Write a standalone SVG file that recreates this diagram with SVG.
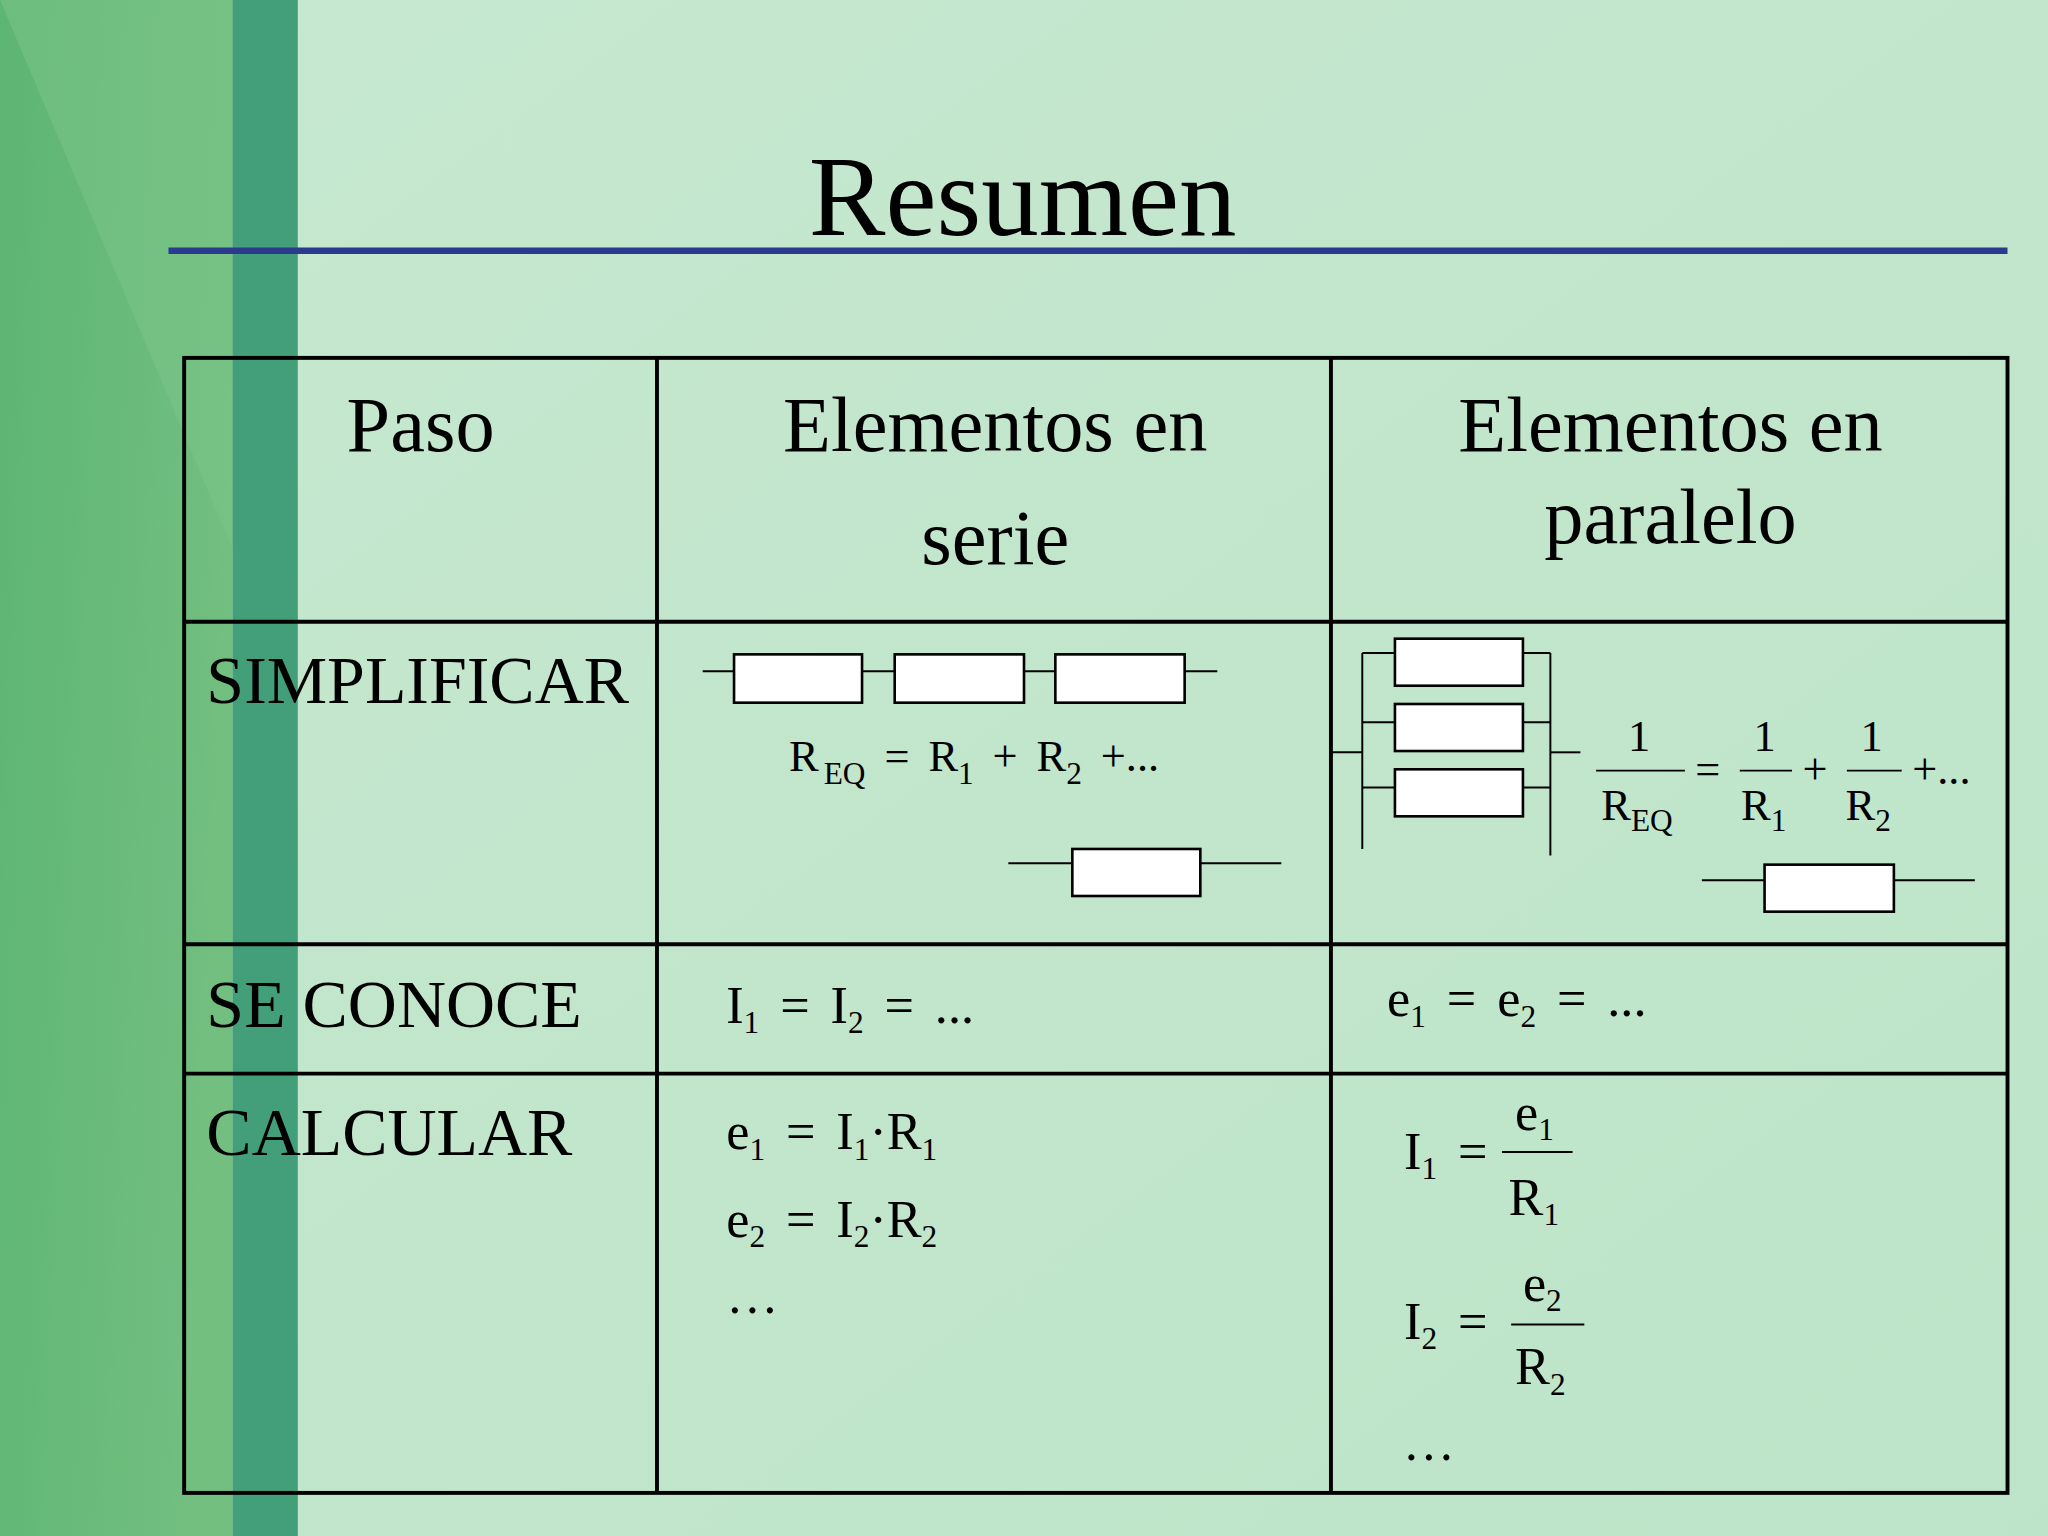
<svg xmlns="http://www.w3.org/2000/svg" width="2048" height="1536" viewBox="0 0 2048 1536">
<defs>
<linearGradient id="bg" x1="0" y1="0" x2="1" y2="1"><stop offset="0" stop-color="#c6e8d0"/><stop offset="1" stop-color="#bde4c8"/></linearGradient>
<linearGradient id="lg" x1="0" y1="0" x2="1" y2="0.3"><stop offset="0" stop-color="#5db573"/><stop offset="1" stop-color="#72bf80"/></linearGradient>
<style>
text{font-family:"Liberation Serif","Times New Roman",serif;fill:#000}
.h{font-size:60px;text-anchor:middle}
.r{font-size:52px}
.e{font-size:40px;word-spacing:6px}
.s{font-size:24px}
.box{fill:#fff;stroke:#000;stroke-width:2}
.w{stroke:#000;stroke-width:1.5;fill:none}
.t{stroke:#000;stroke-width:3;fill:none}
</style>
</defs>
<g transform="scale(1.30612)">
<rect width="1568" height="1176" fill="url(#bg)"/>
<rect width="178" height="1176" fill="url(#lg)"/>
<polygon points="0,0 178,0 178,420" fill="#7cc58a" opacity="0.5"/>
<rect x="178" width="50" height="1176" fill="#429f7a"/>
<text x="783" y="180" style="font-size:88px;text-anchor:middle">Resumen</text>
<line x1="129" y1="192" x2="1537" y2="192" stroke="#2b3a8f" stroke-width="5"/>
<g id="table">
<rect x="141" y="274" width="1396" height="869" class="t"/>
<line x1="503" y1="274" x2="503" y2="1143" class="t" stroke-width="2"/>
<line x1="1019" y1="274" x2="1019" y2="1143" class="t" stroke-width="2"/>
<line x1="141" y1="476" x2="1537" y2="476" class="t" stroke-width="2"/>
<line x1="141" y1="723" x2="1537" y2="723" class="t" stroke-width="2"/>
<line x1="141" y1="822" x2="1537" y2="822" class="t" stroke-width="2"/>
</g>
<g id="headers">
<text class="h" x="322" y="345">Paso</text>
<text class="h" x="762" y="345">Elementos en</text>
<text class="h" x="762" y="432">serie</text>
<text class="h" x="1279" y="345">Elementos en</text>
<text class="h" x="1279" y="416">paralelo</text>
<text class="r" x="158" y="538">SIMPLIFICAR</text>
<text class="r" x="158" y="786">SE CONOCE</text>
<text class="r" x="158" y="884">CALCULAR</text>
</g>
<g id="series">
<line x1="538" y1="514" x2="932" y2="514" class="w"/>
<rect class="box" x="562" y="501" width="98" height="37"/>
<rect class="box" x="685" y="501" width="99" height="37"/>
<rect class="box" x="808" y="501" width="99" height="37"/>
<text x="604" y="590" style="font-size:34px;word-spacing:6px">R<tspan class="s" dx="4" dy="10">EQ</tspan><tspan dy="-10"> = R</tspan><tspan class="s" dy="10">1</tspan><tspan dy="-10"> + R</tspan><tspan class="s" dy="10">2</tspan><tspan dy="-10"> +...</tspan></text>
<line x1="772" y1="661" x2="981" y2="661" class="w"/>
<rect class="box" x="821" y="650" width="98" height="36"/>
</g>
<g id="parallel">
<line x1="1043" y1="500" x2="1043" y2="650" class="w"/>
<line x1="1187" y1="500" x2="1187" y2="655" class="w"/>
<line x1="1043" y1="500" x2="1187" y2="500" class="w"/>
<line x1="1043" y1="553" x2="1187" y2="553" class="w"/>
<line x1="1043" y1="603" x2="1187" y2="603" class="w"/>
<line x1="1019" y1="576" x2="1043" y2="576" class="w"/>
<line x1="1187" y1="576" x2="1210" y2="576" class="w"/>
<rect class="box" x="1068" y="489" width="98" height="36"/>
<rect class="box" x="1068" y="539" width="98" height="36"/>
<rect class="box" x="1068" y="589" width="98" height="36"/>
<g style="font-size:34px">
<text x="1255" y="575" text-anchor="middle">1</text>
<line x1="1222" y1="590" x2="1290" y2="590" class="w"/>
<text x="1226" y="628">R<tspan class="s" dy="8">EQ</tspan></text>
<text x="1298" y="600">=</text>
<text x="1351" y="575" text-anchor="middle">1</text>
<line x1="1332" y1="590" x2="1372" y2="590" class="w"/>
<text x="1333" y="628">R<tspan class="s" dy="8">1</tspan></text>
<text x="1380" y="600">+</text>
<text x="1433" y="575" text-anchor="middle">1</text>
<line x1="1414" y1="590" x2="1456" y2="590" class="w"/>
<text x="1413" y="628">R<tspan class="s" dy="8">2</tspan></text>
<text x="1464" y="600">+...</text>
</g>
<line x1="1303" y1="674" x2="1512" y2="674" class="w"/>
<rect class="box" x="1351" y="662" width="99" height="36"/>
</g>
<g id="known">
<text class="e" x="556" y="783">I<tspan class="s" dy="8">1</tspan><tspan dy="-8"> = I</tspan><tspan class="s" dy="8">2</tspan><tspan dy="-8"> = ...</tspan></text>
<text class="e" x="1062" y="778">e<tspan class="s" dy="8">1</tspan><tspan dy="-8"> = e</tspan><tspan class="s" dy="8">2</tspan><tspan dy="-8"> = ...</tspan></text>
</g>
<g id="calc">
<text class="e" x="556" y="880">e<tspan class="s" dy="8">1</tspan><tspan dy="-8"> = I</tspan><tspan class="s" dy="8">1</tspan><tspan dy="-8">·R</tspan><tspan class="s" dy="8">1</tspan></text>
<text class="e" x="556" y="947">e<tspan class="s" dy="8">2</tspan><tspan dy="-8"> = I</tspan><tspan class="s" dy="8">2</tspan><tspan dy="-8">·R</tspan><tspan class="s" dy="8">2</tspan></text>
<text class="e" x="556" y="1005">…</text>
<text class="e" x="1075" y="895">I<tspan class="s" dy="8">1</tspan><tspan dy="-8"> =</tspan></text>
<text class="e" x="1160" y="865">e<tspan class="s" dy="8">1</tspan></text>
<line x1="1150" y1="882" x2="1204" y2="882" class="w"/>
<text class="e" x="1155" y="930">R<tspan class="s" dy="8">1</tspan></text>
<text class="e" x="1075" y="1025">I<tspan class="s" dy="8">2</tspan><tspan dy="-8"> =</tspan></text>
<text class="e" x="1166" y="996">e<tspan class="s" dy="8">2</tspan></text>
<line x1="1157" y1="1014" x2="1213" y2="1014" class="w"/>
<text class="e" x="1160" y="1060">R<tspan class="s" dy="8">2</tspan></text>
<text class="e" x="1074" y="1118">…</text>
</g>
</g>
</svg>
